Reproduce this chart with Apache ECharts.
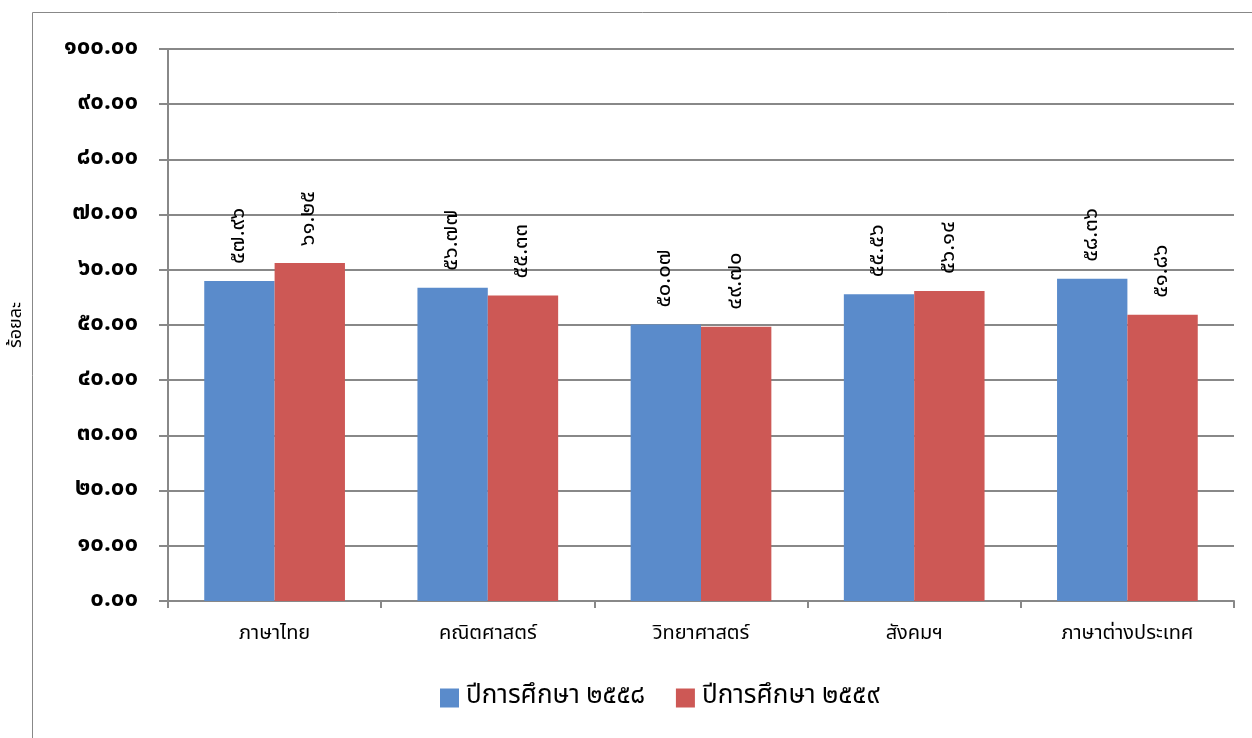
<!DOCTYPE html>
<html><head><meta charset="utf-8">
<script src="https://cdn.jsdelivr.net/npm/echarts@6/dist/echarts.min.js"></script>
<style>html,body{margin:0;padding:0;background:#fff}#c{width:1252px;height:738px}</style>
</head><body><div id="c"></div>
<script>
const categories = ['ภาษาไทย', 'คณิตศาสตร์', 'วิทยาศาสตร์', 'สังคมฯ', 'ภาษาต่างประเทศ'];
const seriesNames = ['ปีการศึกษา ๒๕๕๘', 'ปีการศึกษา ๒๕๕๙'];
const values2558 = [57.96, 56.77, 50.07, 55.56, 58.36];
const values2559 = [61.25, 55.33, 49.70, 56.14, 51.86];
const yAxisName = 'ร้อยละ';

const thaiDigits = '๐๑๒๓๔๕๖๗๘๙';
function toThai(s){ return String(s).replace(/[0-9]/g, d => thaiDigits[+d]); }

const FONT = '"Noto Sans Thai","Tahoma","DejaVu Sans",sans-serif';
const chart = echarts.init(document.getElementById('c'));
const labelCfg = {
  show: true, position: 'top', rotate: 90, align: 'left', verticalAlign: 'middle',
  distance: 17, color: '#000', fontSize: 22, fontFamily: FONT,
  formatter: p => toThai(p.value.toFixed(2))
};
chart.setOption({
  animation: false,
  backgroundColor: '#fff',
  graphic: [{ type: 'rect', shape: { x: 32.5, y: 12.5, width: 1240, height: 740 }, style: { fill: 'none', stroke: '#888', lineWidth: 1 } }],
  grid: { left: 167, right: 18, top: 49, bottom: 137 },
  legend: {
    bottom: 22, left: 435, itemWidth: 19, itemHeight: 19, itemGap: 31, icon: 'rect',
    textStyle: { fontSize: 26, fontFamily: FONT, color: '#000', padding: [0, 0, 0, 2] },
    data: seriesNames
  },
  xAxis: {
    type: 'category', data: categories,
    axisLine: { lineStyle: { color: '#888', width: 2 } },
    axisTick: { show: true, length: 7, lineStyle: { color: '#888', width: 2 } },
    axisLabel: { margin: 24, fontSize: 20, fontFamily: FONT, color: '#000' }
  },
  yAxis: {
    type: 'value', min: 0, max: 100, interval: 10,
    name: yAxisName, nameLocation: 'middle', nameGap: 142, nameRotate: 90,
    nameTextStyle: { fontSize: 18, fontFamily: FONT, color: '#000' },
    axisLine: { show: true, lineStyle: { color: '#888', width: 2 } },
    axisTick: { show: true, length: 9, lineStyle: { color: '#888', width: 2 } },
    axisLabel: { margin: 30, fontSize: 24, fontWeight: 'bold', fontFamily: FONT, color: '#000', formatter: v => toThai(v.toFixed(2)) },
    splitLine: { lineStyle: { color: '#888', width: 2 } }
  },
  series: [
    { name: seriesNames[0], type: 'bar', data: values2558, barGap: '0%', barCategoryGap: '34%',
      itemStyle: { color: '#5A8BCB' }, label: labelCfg },
    { name: seriesNames[1], type: 'bar', data: values2559,
      itemStyle: { color: '#CD5855' }, label: labelCfg }
  ]
});
</script></body></html>
